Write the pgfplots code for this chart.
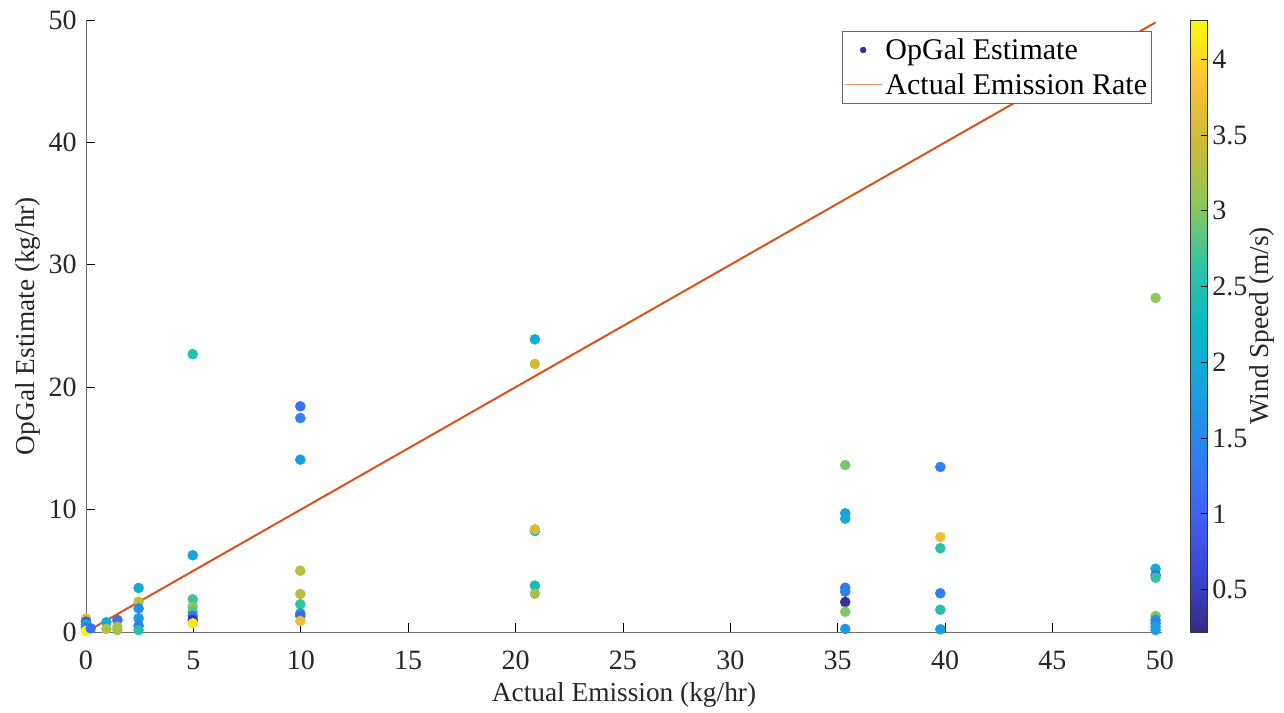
\documentclass[border=0pt]{standalone}
\usepackage{fontspec}
\setmainfont{Liberation Serif}
\usepackage{pgfplots}
\pgfplotsset{compat=1.18}
\definecolor{lineorange}{RGB}{217,83,25}
\definecolor{legorange}{RGB}{236,145,110}
\definecolor{parulalow}{RGB}{62,38,168}
\definecolor{axgray}{RGB}{110,110,110}
\pgfplotsset{
  /pgf/number format/assume math mode=true,
  colormap={parula}{rgb255=(53,42,135) rgb255=(60,70,215) rgb255=(65,100,245)
    rgb255=(45,130,240) rgb255=(25,160,225) rgb255=(10,185,195) rgb255=(50,195,160)
    rgb255=(140,200,90) rgb255=(205,185,55) rgb255=(250,195,55) rgb255=(249,251,14)},
}

% x = actual emission, y = OpGal estimate, w = wind speed
\pgfplotstableread{
x y w
0.00 1.10 3.60
0.00 0.85 0.90
0.00 0.63 2.00
0.00 0.35 1.30
0.00 0.08 4.20
0.22 0.30 1.20
0.95 0.79 2.00
0.95 0.25 3.30
1.46 0.98 1.20
1.46 0.43 3.30
1.46 0.16 3.20
2.45 3.60 2.05
2.45 2.48 3.40
2.45 1.93 1.60
2.45 1.12 1.75
2.45 0.49 1.30
2.45 0.16 2.50
4.97 22.70 2.45
4.97 6.27 1.90
4.97 2.67 2.70
4.97 2.07 3.00
4.97 1.66 2.80
4.97 1.31 1.20
4.97 0.98 0.35
4.97 0.71 4.10
9.98 18.44 1.20
9.98 17.48 1.40
9.98 14.08 1.80
9.98 5.01 3.30
9.98 3.10 3.35
9.98 2.26 2.60
9.98 1.52 1.80
9.98 1.31 1.10
9.98 0.90 3.70
20.90 23.91 2.10
20.90 21.90 3.50
20.90 8.25 2.40
20.90 8.39 3.55
20.90 3.79 2.40
20.90 3.13 3.20
35.35 13.64 2.95
35.35 9.70 1.80
35.35 9.26 2.00
35.35 3.62 1.30
35.35 3.30 1.40
35.35 2.45 0.30
35.35 1.66 3.00
35.35 0.25 1.70
39.78 13.48 1.40
39.78 7.76 3.75
39.78 6.84 2.60
39.78 3.16 1.40
39.78 1.82 2.50
39.78 0.22 1.80
49.80 27.30 3.05
49.80 5.17 2.10
49.80 4.66 1.20
49.80 4.44 2.60
49.80 1.31 3.00
49.80 0.98 1.60
49.80 0.71 1.40
49.80 0.43 1.80
49.80 0.16 1.80
}\opgal

\begin{document}
\begin{tikzpicture}
\begin{axis}[
    name=main,
    scale only axis,
    width=807pt, height=459pt,
    xmin=0, xmax=50.1, ymin=0, ymax=50,
    xtick={0,5,...,50}, ytick={0,10,...,50},
    axis lines*=left,
    axis line style={axgray, line width=0.6pt},
    tick align=inside,
    major tick length=7pt,
    tick style={black, line width=0.6pt},
    ticklabel style={font=\fontsize{21}{25}\selectfont, text=black!85},
    xticklabel style={yshift=-10.5pt},
    yticklabel style={xshift=-3.5pt},
    xlabel={Actual Emission (kg/hr)},
    ylabel={OpGal Estimate (kg/hr)},
    label style={font=\fontsize{20.5}{24}\selectfont, text=black!85},
    xlabel style={yshift=-3pt},
    ylabel style={yshift=-1pt},
    colormap name=parula,
    point meta min=0.22, point meta max=4.26,
    colorbar,
    colorbar style={
      at={(parent axis.north east)}, anchor=north west, xshift=13pt,
      width=12.75pt,
      ytick={0.5,1,...,4},
      ytick pos=right,
      tick align=inside,
      major tick length=5pt,
      ticklabel style={font=\fontsize{21}{25}\selectfont, text=black!85},
      ylabel={Wind Speed (m/s)},
      ylabel style={font=\fontsize{20.5}{24}\selectfont, text=black!85, yshift=5pt},
      axis line style={black!80},
    },
    legend image code/.code={\draw[mark repeat=2,mark phase=2,#1] plot coordinates {(0cm,0cm) (0.48cm,0cm) (0.98cm,0cm)};},
    legend style={at={(0.9907,0.982)}, anchor=north east, draw=black!60,
      font=\fontsize{22.5}{27}\selectfont, inner xsep=1.5pt, inner ysep=3.5pt, row sep=5pt,
      cells={anchor=west}},
]
\addplot[scatter, only marks, mark=*, mark size=3.75pt,
  scatter/use mapped color={draw=mapped color, fill=mapped color},
  point meta=explicit, forget plot]
  table[x=x, y=y, meta=w] {\opgal};
\addlegendimage{only marks, mark=*, mark size=2.2pt, color=parulalow}
\addlegendentry{OpGal Estimate}
\addlegendimage{legorange, line width=1pt}
\addlegendentry{Actual Emission Rate}
\addplot[lineorange, line width=1.5pt, forget plot]
  coordinates {(0,0) (49.8,49.8)};
\end{axis}
\pgfresetboundingbox
\path ([shift={(-64.5pt,-60.75pt)}]main.south west) rectangle ([shift={(91.5pt,15pt)}]main.north east);
\end{tikzpicture}
\end{document}
